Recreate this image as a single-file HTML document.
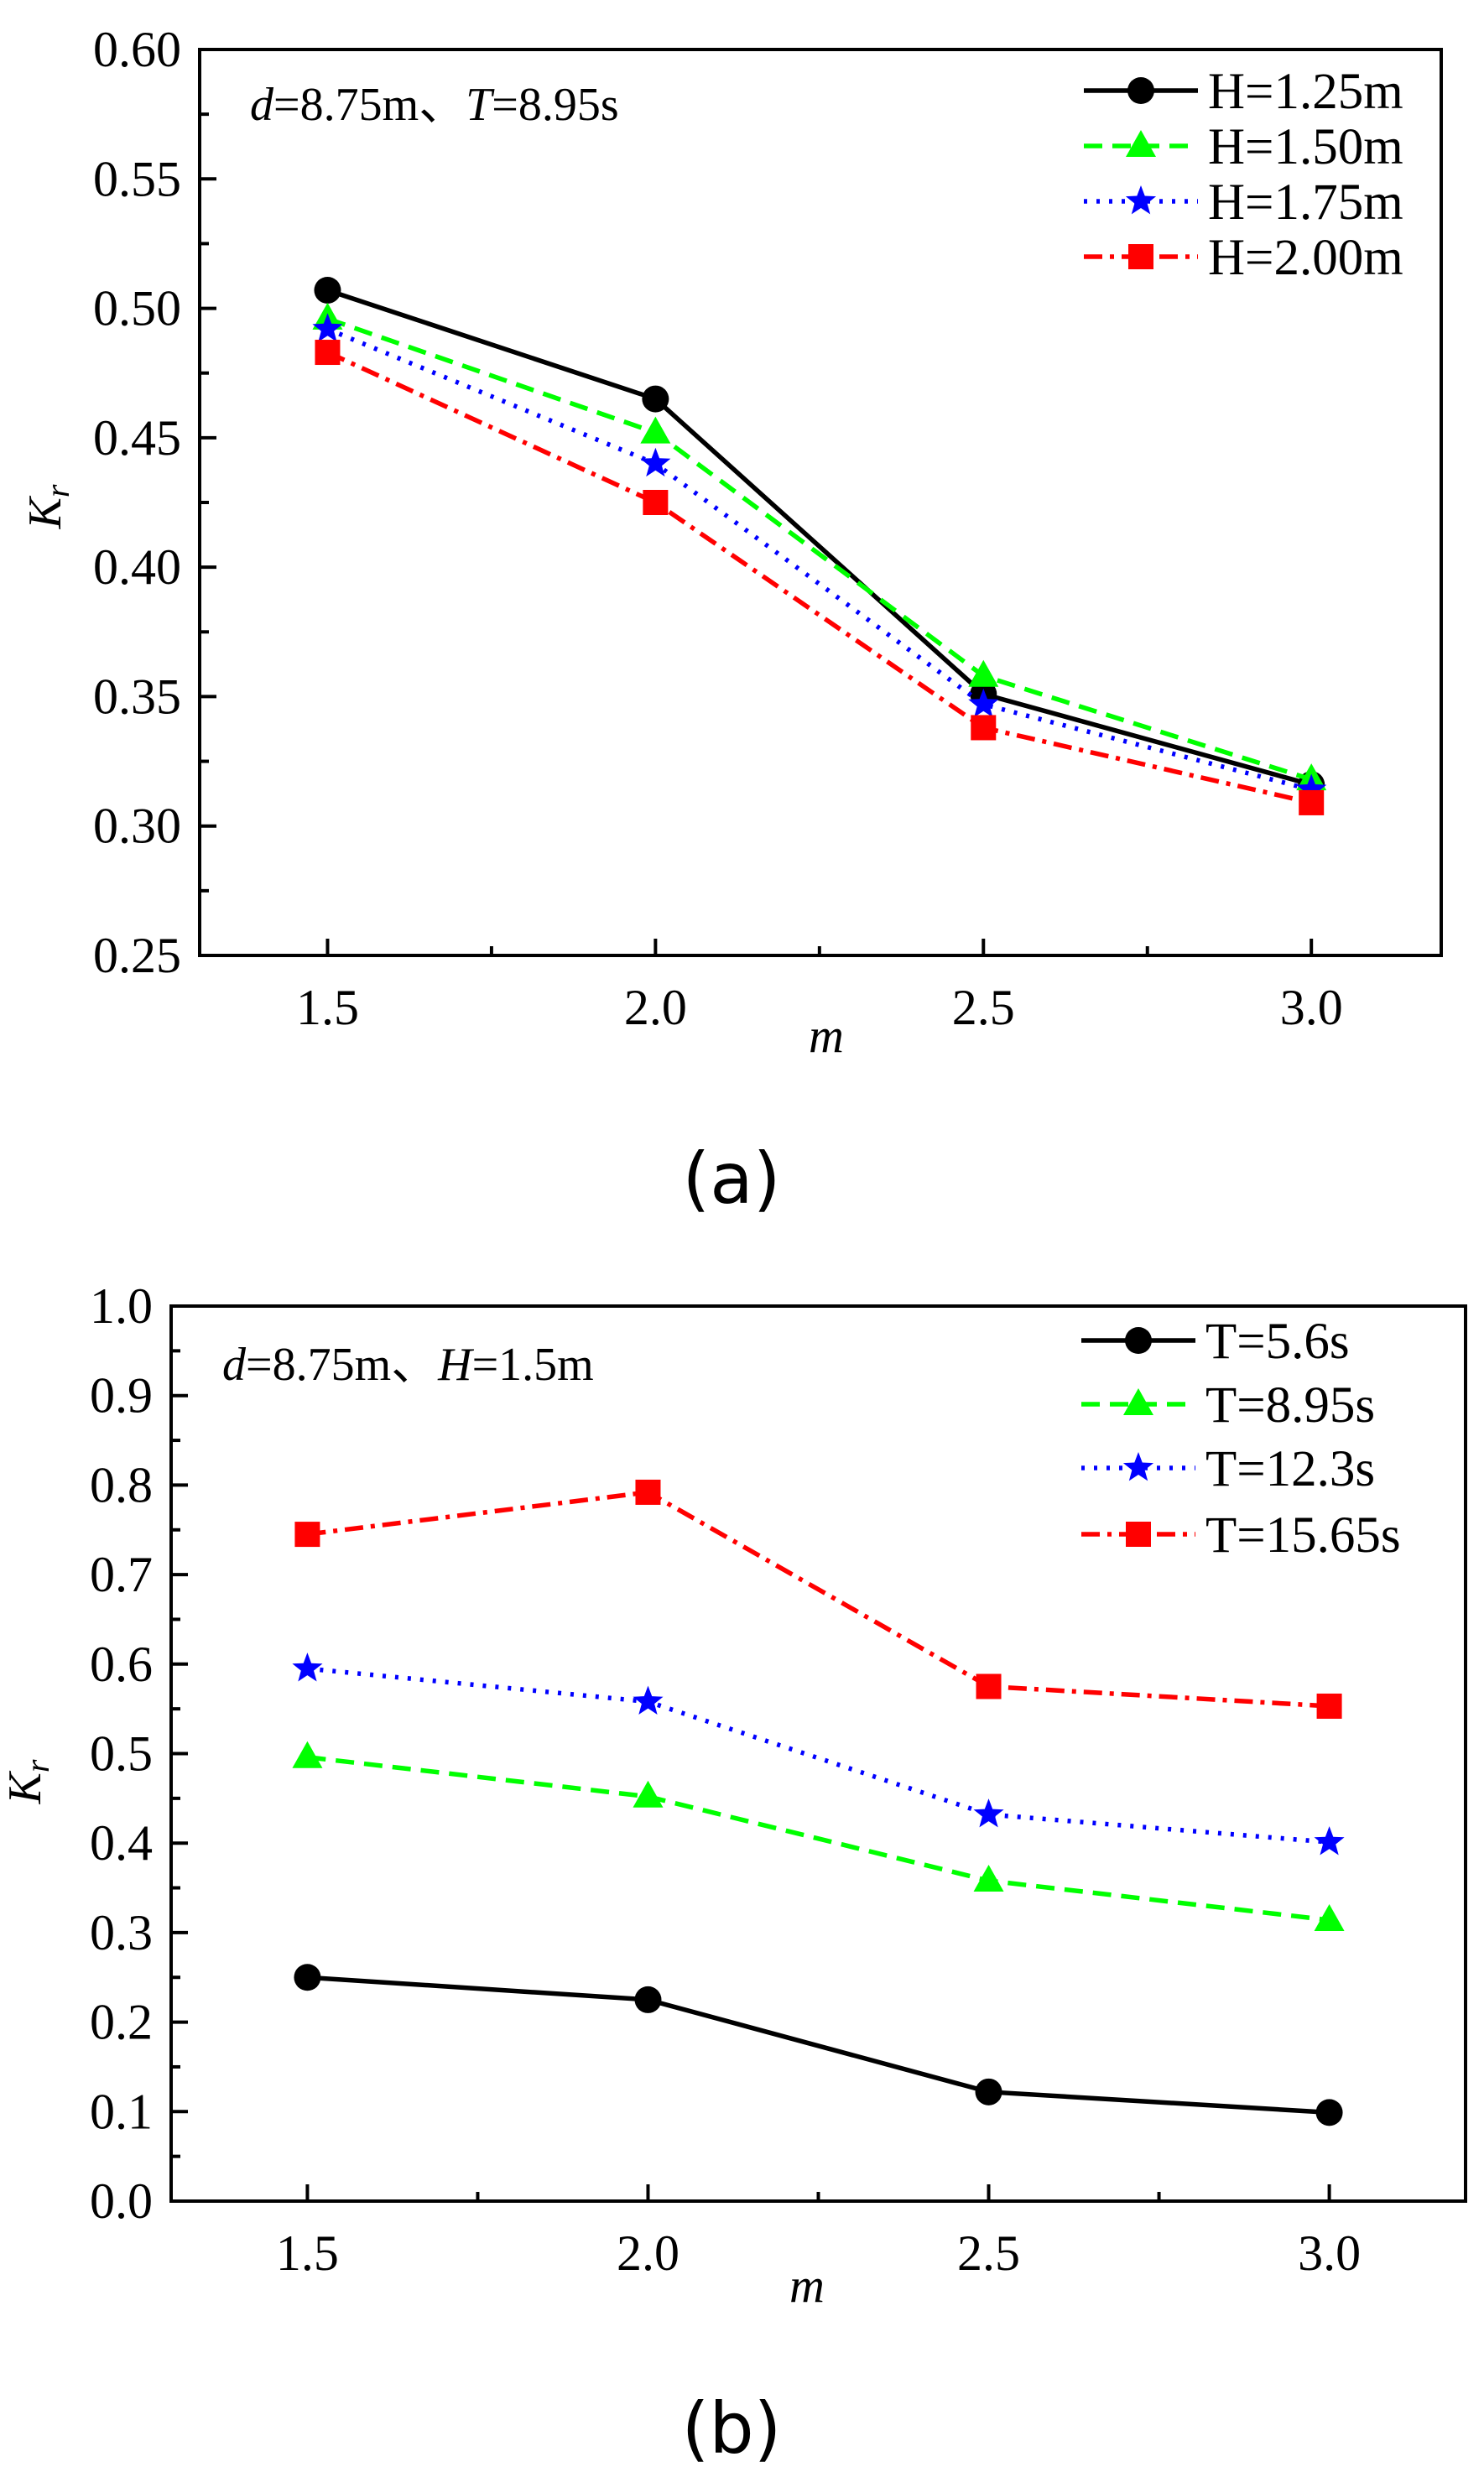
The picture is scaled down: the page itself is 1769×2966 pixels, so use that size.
<!DOCTYPE html>
<html><head><meta charset="utf-8"><style>
html,body{margin:0;padding:0;background:#fff}
svg{display:block}
</style></head><body>
<svg id="svg" width="1769" height="2966" viewBox="0 0 1769 2966" xmlns="http://www.w3.org/2000/svg">
<rect width="1769" height="2966" fill="#fff"/>
</svg>
<script>
const categories=[1.5,2.0,2.5,3.0];
const xTickLabels=["1.5","2.0","2.5","3.0"];
const aLabels=["H=1.25m","H=1.50m","H=1.75m","H=2.00m"];
const aS1=[0.507,0.465,0.351,0.316];
const aS2=[0.496,0.452,0.358,0.318];
const aS3=[0.492,0.440,0.347,0.314];
const aS4=[0.483,0.425,0.338,0.309];
const aYTicks=["0.25","0.30","0.35","0.40","0.45","0.50","0.55","0.60"];
const bLabels=["T=5.6s","T=8.95s","T=12.3s","T=15.65s"];
const bS1=[0.250,0.225,0.122,0.099];
const bS2=[0.496,0.452,0.358,0.314];
const bS3=[0.595,0.558,0.432,0.401];
const bS4=[0.745,0.792,0.575,0.553];
const bYTicks=["0.0","0.1","0.2","0.3","0.4","0.5","0.6","0.7","0.8","0.9","1.0"];

const NS="http://www.w3.org/2000/svg";
const svg=document.getElementById('svg');
const SERIF='"Liberation Serif", serif';
function el(tag,attrs,parent,txt){const e=document.createElementNS(NS,tag);for(const k in attrs)e.setAttribute(k,attrs[k]);if(txt!=null)e.textContent=txt;(parent||svg).appendChild(e);return e;}

const styles=[
 {color:"#000",dash:"",marker:"circle"},
 {color:"#00ff00",dash:"22,12",marker:"tri"},
 {color:"#0000ff",dash:"4,11",marker:"star"},
 {color:"#ff0000",dash:"22,9,5,9",marker:"square"}];

function marker(g,type,x,y,color){
  let m;
  if(type==="circle")m=el('circle',{cx:x,cy:y,r:16,fill:color},g);
  else if(type==="tri")m=el('polygon',{points:`${x},${y-19} ${x+18},${y+13} ${x-18},${y+13}`,fill:color},g);
  else if(type==="square")m=el('rect',{x:x-15,y:y-15,width:30,height:30,fill:color},g);
  else{let p=[];for(let i=0;i<10;i++){const r=i%2?8:19;const a=-Math.PI/2+i*Math.PI/5;p.push((x+r*Math.cos(a)).toFixed(1)+","+(y+r*Math.sin(a)).toFixed(1));}
    m=el('polygon',{points:p.join(' '),fill:color},g);}
  
  
}

function chart(cfg){
  const g=el('g',{});
  
  
  const {L,R,T,B,xmin,xmax,ymin,ymax}=cfg;
  const sx=v=>L+(v-xmin)/(xmax-xmin)*(R-L);
  const sy=v=>B-(v-ymin)/(ymax-ymin)*(B-T);
  cfg.series.forEach((s,i)=>{
    const st=styles[i];
    const sg=el('g',{},g);
    
    
    const pts=categories.map((c,j)=>sx(c)+","+sy(s[j])).join(' ');
    const pl=el('polyline',{points:pts,fill:"none",stroke:st.color,"stroke-width":5.5,"stroke-dasharray":st.dash},sg);
    
    
    categories.forEach((c,j)=>marker(sg,st.marker,sx(c),sy(s[j]),st.color));
  });
  const fr=el('rect',{x:L,y:T,width:R-L,height:B-T,fill:"none",stroke:"#000","stroke-width":4},g);
  
  
  cfg.yTicks.forEach((t,i)=>{
    const v=parseFloat(t),y=sy(v);
    el('line',{x1:L,x2:L+20,y1:y,y2:y,stroke:"#000","stroke-width":4},g);
    const tx=el('text',{x:L-22,y:y+20,"font-size":60,"font-family":SERIF,"text-anchor":"end"},g,t);
    
    
    if(i<cfg.yTicks.length-1){const ym=sy(v+cfg.yStep/2);el('line',{x1:L,x2:L+11,y1:ym,y2:ym,stroke:"#000","stroke-width":4},g);}
  });
  categories.forEach((c,i)=>{
    const x=sx(c);
    el('line',{x1:x,x2:x,y1:B,y2:B-20,stroke:"#000","stroke-width":4},g);
    const tx=el('text',{x:x,y:B+82,"font-size":60,"font-family":SERIF,"text-anchor":"middle"},g,xTickLabels[i]);
    
    
    if(i<categories.length-1){const xm=sx(c+0.25);el('line',{x1:xm,x2:xm,y1:B,y2:B-11,stroke:"#000","stroke-width":4},g);}
  });
  const xt=el('text',{x:cfg.mx,y:cfg.my,"font-size":58,"font-family":SERIF,"font-style":"italic","text-anchor":"middle"},g,"m");
  
  
  const yt=el('text',{transform:`translate(${cfg.kx},${cfg.ky}) rotate(-90)`,"font-size":56,"font-family":SERIF,"font-style":"italic","text-anchor":"middle"},g);
  
  
  el('tspan',{},yt,"K");el('tspan',{"font-size":40,dy:10},yt,"r");
  const an=el('text',{x:cfg.ax,y:cfg.ay,"font-size":56,"font-family":SERIF},g);
  
  
  el('tspan',{"font-style":"italic"},an,"d");
  el('tspan',{},an,cfg.ann[0]);
  el('tspan',{"font-style":"italic"},an,cfg.ann[1]);
  el('tspan',{},an,cfg.ann[2]);
  cfg.labels.forEach((lab,i)=>{
    const st=styles[i],y=cfg.legY[i];
    const lg=el('g',{},g);
    
    
    el('line',{x1:cfg.legX,x2:cfg.legX+136,y1:y,y2:y,stroke:st.color,"stroke-width":5.5,"stroke-dasharray":st.dash},lg);
    marker(lg,st.marker,cfg.legX+68,y,st.color);
    el('text',{x:cfg.legX+148,y:y+21,"font-size":61,"font-family":SERIF},lg,lab);
  });
  const cap=el('text',{x:cfg.capX,y:cfg.capY,"font-size":84,"text-anchor":"middle",style:'font-family:"DejaVu Sans",sans-serif'},g,cfg.cap);
  
  
}

chart({name:"chart-a",L:238,R:1718,T:59,B:1139,xmin:1.305,xmax:3.198,ymin:0.25,ymax:0.60,yStep:0.05,
  series:[aS1,aS2,aS3,aS4],labels:aLabels,yTicks:aYTicks,
  mx:985,my:1254,kx:72,ky:604,ax:298,ay:143,ann:["=8.75m、","T","=8.95s"],
  legX:1292,legY:[108,174,240,306],cap:"(a)",capX:872,capY:1434});
chart({name:"chart-b",L:204,R:1747,T:1557,B:2624,xmin:1.30,xmax:3.20,ymin:0,ymax:1.0,yStep:0.1,
  series:[bS1,bS2,bS3,bS4],labels:bLabels,yTicks:bYTicks,
  mx:962,my:2744,kx:48,ky:2124,ax:265,ay:1645,ann:["=8.75m、","H","=1.5m"],
  legX:1289,legY:[1598,1674,1750,1829],cap:"(b)",capX:872,capY:2924});
</script>
</body></html>
